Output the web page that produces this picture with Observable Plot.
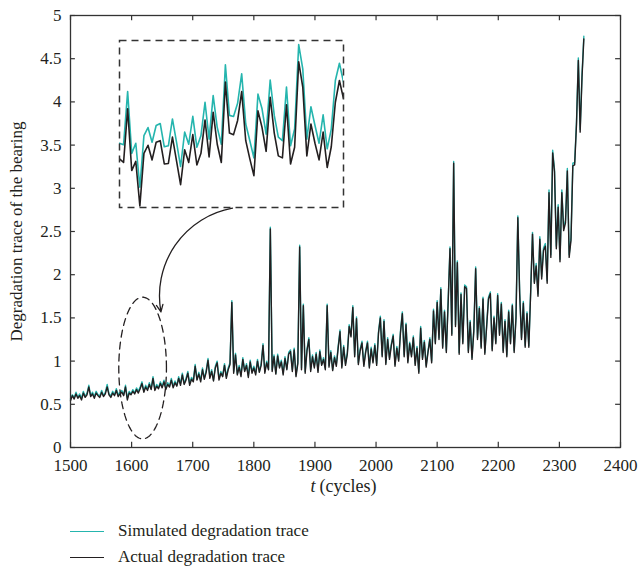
<!DOCTYPE html>
<html><head><meta charset="utf-8">
<script src="https://cdn.jsdelivr.net/npm/d3@7"></script>
<script src="https://cdn.jsdelivr.net/npm/@observablehq/plot@0.6"></script>
<style>
body{margin:0;background:#fff;}
#wrap{position:relative;width:639px;height:569px;font-family:"Liberation Serif","DejaVu Serif",serif;color:#231f20;}
#wrap svg, #wrap svg text{font-family:"Liberation Serif","DejaVu Serif",serif !important;}
#main{position:absolute;left:0;top:0;}
#inset{position:absolute;left:117px;top:38px;}
.leg{position:absolute;left:70px;height:20px;display:flex;align-items:center;font-size:17px;white-space:nowrap;}
.leg .sw{width:34px;height:0;border-top:1.6px solid;margin-right:14px;}
</style></head><body><div id="wrap"><div id="main"></div><div id="inset"></div></div>
<script>
// ---- data ----
const cycleStart = 1500, cycleStep = 3;
const actual = [
0.54,0.60,0.56,0.62,0.57,0.60,0.55,0.63,0.58,0.61,0.70,0.59,0.62,0.57,0.63,0.60,0.58,0.64,0.59,0.62,0.70,0.61,0.58,0.63,0.60,0.66,0.59,0.62,0.64,0.60,0.70,0.55,0.63,0.61,
0.65,0.62,0.67,0.63,0.68,0.74,0.64,0.70,0.66,0.73,0.67,0.80,0.66,0.71,0.68,0.74,0.69,0.76,0.67,0.73,0.70,0.78,0.69,0.75,0.71,0.80,0.72,0.84,0.73,0.78,0.86,0.72,0.79,
0.76,0.94,0.78,0.85,0.76,0.90,0.79,0.87,1.01,0.80,0.88,0.77,0.92,0.98,0.78,0.86,0.82,0.95,0.80,0.90,0.96,1.68,0.86,1.07,0.84,0.93,0.82,1.02,0.88,0.95,0.81,0.99,0.86,
0.92,0.84,1.00,0.87,0.95,1.18,0.86,0.98,0.90,2.53,0.88,1.05,0.85,1.06,0.92,0.99,0.84,1.03,0.90,1.08,1.11,0.88,1.13,0.82,0.97,2.32,0.90,1.64,0.86,1.12,1.25,0.88,1.05,0.92,
1.08,0.87,1.11,0.95,1.02,0.90,1.64,0.93,1.10,0.89,1.04,0.94,1.15,1.34,0.92,1.16,0.95,1.08,1.40,1.28,1.62,1.05,1.49,0.96,1.12,1.21,0.94,1.10,1.21,0.92,1.14,0.98,1.18,0.95,
1.32,1.50,1.05,1.46,0.96,1.25,1.02,1.18,1.29,0.94,1.15,1.00,1.33,1.55,1.05,1.42,0.98,1.20,1.05,1.27,0.95,1.15,0.86,1.38,1.02,1.22,0.93,1.10,1.25,0.98,1.58,1.20,1.68,
1.25,1.83,1.15,1.57,1.10,1.68,2.30,1.30,3.29,1.40,2.14,1.08,1.77,1.20,1.86,1.84,1.10,1.45,1.02,1.35,2.07,1.25,1.61,1.15,1.72,1.08,1.40,1.72,1.78,1.12,1.50,1.20,1.76,
1.30,1.66,1.10,1.46,1.05,1.57,1.20,1.64,1.10,1.50,2.66,1.78,1.25,1.67,1.16,1.55,1.16,1.79,2.47,1.90,
2.10,1.75,2.41,1.95,2.28,2.33,1.90,2.95,2.20,3.41,3.19,2.30,2.78,2.15,2.95,2.51,2.60,3.20,2.20,2.40,3.26,3.27,3.74,4.48,3.65,4.28,4.73
];
const simulated = [
0.56,0.61,0.58,0.64,0.58,0.62,0.57,0.65,0.59,0.63,0.72,0.60,0.64,0.59,0.65,0.61,0.60,0.66,0.60,0.64,0.73,0.62,0.60,0.65,0.61,0.68,0.61,0.64,0.66,0.61,0.72,0.57,0.65,0.62,
0.67,0.63,0.69,0.65,0.70,0.76,0.65,0.72,0.68,0.75,0.68,0.82,0.68,0.73,0.69,0.76,0.71,0.78,0.69,0.75,0.71,0.80,0.71,0.77,0.72,0.82,0.74,0.86,0.74,0.80,0.88,0.74,0.81,
0.78,0.96,0.79,0.87,0.78,0.92,0.80,0.89,1.03,0.82,0.90,0.78,0.94,1.00,0.80,0.88,0.83,0.97,0.82,0.92,0.98,1.70,0.88,1.09,0.85,0.95,0.84,1.04,0.89,0.97,0.83,1.01,0.88,
0.94,0.86,1.02,0.88,0.97,1.20,0.88,1.00,0.91,2.55,0.90,1.07,0.86,1.08,0.94,1.01,0.86,1.05,0.91,1.10,1.13,0.90,1.15,0.84,0.99,2.34,0.92,1.66,0.88,1.14,1.27,0.90,1.07,0.94,
1.10,0.89,1.13,0.96,1.04,0.92,1.66,0.95,1.12,0.90,1.06,0.96,1.17,1.36,0.94,1.18,0.97,1.10,1.42,1.30,1.64,1.07,1.51,0.98,1.14,1.23,0.96,1.12,1.23,0.94,1.16,1.00,1.20,0.97,
1.34,1.52,1.07,1.48,0.98,1.27,1.04,1.20,1.31,0.96,1.17,1.02,1.35,1.57,1.07,1.44,1.00,1.22,1.07,1.29,0.97,1.17,0.88,1.40,1.04,1.24,0.95,1.12,1.27,1.00,1.60,1.22,1.70,
1.27,1.85,1.17,1.59,1.12,1.70,2.32,1.32,3.31,1.42,2.16,1.10,1.79,1.22,1.88,1.86,1.12,1.47,1.04,1.37,2.09,1.27,1.63,1.17,1.74,1.10,1.42,1.74,1.80,1.14,1.52,1.22,1.78,
1.32,1.68,1.12,1.48,1.07,1.59,1.22,1.66,1.12,1.52,2.68,1.80,1.27,1.69,1.18,1.57,1.18,1.81,2.49,1.92,
2.13,1.78,2.44,1.98,2.31,2.36,1.93,2.98,2.23,3.44,3.22,2.33,2.81,2.18,2.98,2.54,2.63,3.23,2.23,2.43,3.29,3.30,3.77,4.51,3.68,4.31,4.76
];
// zoomed-in detail (inset)
const insetStart = 1590;
const insetActual = [0.626,0.619,0.725,0.603,0.621,0.533,0.637,0.653,0.624,0.659,0.662,0.616,0.617,0.669,0.622,0.575,0.644,0.619,0.674,0.614,0.637,0.703,0.630,0.718,0.655,0.619,0.778,0.677,0.674,0.702,0.759,0.662,0.626,0.593,0.721,0.688,0.641,0.748,0.677,0.632,0.628,0.733,0.616,0.649,0.818,0.768,0.632,0.695,0.657,0.624,0.679,0.609,0.650,0.738,0.781,0.745];
const insetSimulated = [0.657,0.654,0.759,0.637,0.657,0.570,0.672,0.688,0.659,0.692,0.696,0.650,0.652,0.705,0.659,0.611,0.679,0.655,0.710,0.649,0.672,0.738,0.665,0.751,0.688,0.655,0.812,0.712,0.710,0.736,0.794,0.695,0.662,0.628,0.754,0.725,0.675,0.782,0.712,0.669,0.662,0.768,0.652,0.685,0.852,0.804,0.665,0.729,0.692,0.657,0.713,0.646,0.685,0.781,0.815,0.778];
const xTicks = [1500,1600,1700,1800,1900,2000,2100,2200,2300,2400];
const xTickLabels = ["1500","1600","1700","1800","1900","2000","2100","2200","2300","2400"];
const yTicks = [0,0.5,1,1.5,2,2.5,3,3.5,4,4.5,5];
const yTickLabels = ["0","0.5","1","1.5","2","2.5","3","3.5","4","4.5","5"];
const seriesNames = ["Simulated degradation trace","Actual degradation trace"];
// annotation (data units)
const ellipseCenter = [1618, 0.92], ellipseRadii = [39, 0.82];
const calloutArrow = [{x1: 1765, y1: 2.77, x2: 1648, y2: 1.57}];

const CYAN = "#25b5ae", BLACK = "#231f20", AX = "#333";
const rows = actual.map((v, i) => ({t: cycleStart + i * cycleStep, actual: v, simulated: simulated[i]}));
const insetRows = insetActual.map((v, i) => ({t: insetStart + i, actual: v, simulated: insetSimulated[i]}));
const ellipse = d3.range(0, 361, 3).map(a => ({
  x: ellipseCenter[0] + ellipseRadii[0] * Math.cos(a * Math.PI / 180),
  y: ellipseCenter[1] + ellipseRadii[1] * Math.sin(a * Math.PI / 180)
}));

const main = Plot.plot({
  width: 639, height: 510,
  marginTop: 15, marginRight: 19, marginBottom: 63, marginLeft: 70,
  style: {fontSize: "17px", color: BLACK, background: "transparent"},
  x: {domain: [1500, 2400]},
  y: {domain: [0, 5]},
  marks: [
    Plot.axisX({ticks: xTicks, tickSize: 0, tickPadding: 11, tickFormat: d => xTickLabels[xTicks.indexOf(d)], label: null, fontSize: 17}),
    Plot.axisY({ticks: yTicks, tickSize: 0, tickPadding: 9, tickFormat: d => yTickLabels[yTicks.indexOf(d)], label: null, fontSize: 17}),
    Plot.ruleX(xTicks, {y1: 0, y2: 0.06, stroke: AX, strokeWidth: 1.2}),
    Plot.ruleX(xTicks, {y1: 5, y2: 4.94, stroke: AX, strokeWidth: 1.2}),
    Plot.ruleY(yTicks, {x1: 1500, x2: 1508, stroke: AX, strokeWidth: 1.2}),
    Plot.ruleY(yTicks, {x1: 2400, x2: 2392, stroke: AX, strokeWidth: 1.2}),
    Plot.line(rows, {x: "t", y: "simulated", stroke: CYAN, strokeWidth: 1.4}),
    Plot.line(rows, {x: "t", y: "actual", stroke: BLACK, strokeWidth: 1.4}),
    Plot.line(ellipse, {x: "x", y: "y", stroke: BLACK, strokeWidth: 1.3, strokeDasharray: "7,5"}),
    Plot.arrow(calloutArrow, {x1: "x1", y1: "y1", x2: "x2", y2: "y2", bend: -45, stroke: BLACK, strokeWidth: 1.3, headLength: 9, headAngle: 50}),
    Plot.frame({stroke: AX, strokeWidth: 1.3}),
    Plot.text(["Degradation trace of the bearing"], {frameAnchor: "left", textAnchor: "middle", lineAnchor: "middle", rotate: -90, dx: -54, fontSize: 17, fill: BLACK}),
    Plot.text(["t"], {frameAnchor: "bottom", textAnchor: "end", dx: -30, dy: 44, fontSize: 18, fontStyle: "italic", fill: BLACK}),
    Plot.text(["(cycles)"], {frameAnchor: "bottom", textAnchor: "start", dx: -26, dy: 44, fontSize: 18, fill: BLACK})
  ]
});
document.getElementById("main").append(main);

const inset = Plot.plot({
  width: 228, height: 171, margin: 2,
  style: {background: "transparent"},
  x: {domain: [insetStart, insetStart + insetActual.length - 1], axis: null},
  y: {domain: [0.53, 0.86], axis: null},
  marks: [
    Plot.line(insetRows, {x: "t", y: "simulated", stroke: CYAN, strokeWidth: 1.6, clip: true}),
    Plot.line(insetRows, {x: "t", y: "actual", stroke: BLACK, strokeWidth: 1.6, clip: true}),
    Plot.frame({stroke: AX, strokeWidth: 1.5, strokeDasharray: "7,5"})
  ]
});
document.getElementById("inset").append(inset);

const wrap = document.getElementById("wrap");
const legColors = [CYAN, BLACK];
seriesNames.forEach((name, i) => {
  const d = document.createElement("div");
  d.className = "leg";
  d.style.top = (521 + i * 26) + "px";
  const sw = document.createElement("span");
  sw.className = "sw"; sw.style.borderTopColor = legColors[i];
  const tx = document.createElement("span");
  tx.textContent = name;
  d.append(sw, tx);
  wrap.append(d);
});
</script></body></html>
